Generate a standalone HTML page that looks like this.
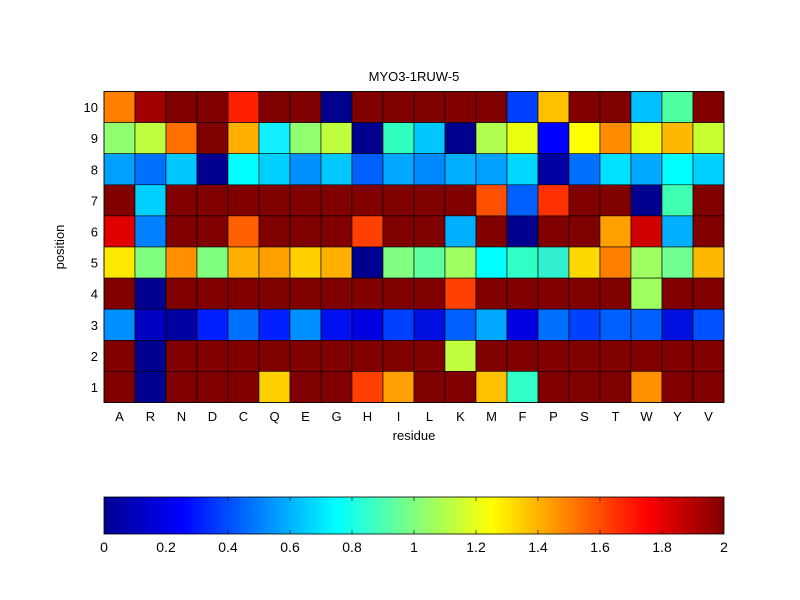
<!DOCTYPE html>
<html><head><meta charset="utf-8"><style>body{margin:0;background:#fff}svg{display:block}</style></head>
<body>
<svg xmlns="http://www.w3.org/2000/svg" width="800" height="600" viewBox="0 0 800 600" font-family="Liberation Sans, Arial, sans-serif" font-size="13">
<defs>
<linearGradient id="jet" x1="0" x2="1" y1="0" y2="0">
<stop offset="0" stop-color="#00008f"/><stop offset="0.125" stop-color="#0000ff"/><stop offset="0.375" stop-color="#00ffff"/><stop offset="0.625" stop-color="#ffff00"/><stop offset="0.875" stop-color="#ff0000"/><stop offset="1" stop-color="#800000"/>
</linearGradient>
</defs>
<rect width="800" height="600" fill="#fff"/>
<g id="cells" stroke="#000" stroke-width="0.6"></g>
<rect x="104" y="91.5" width="620" height="311" fill="none" stroke="#000" stroke-width="0.8"/>
<text x="414" y="81" text-anchor="middle">MYO3-1RUW-5</text>
<g id="ylab" text-anchor="end"></g>
<g id="xlab" text-anchor="middle"></g>
<text x="414" y="440" text-anchor="middle">residue</text>
<text transform="translate(64,247) rotate(-90)" text-anchor="middle">position</text>
<rect x="104" y="497" width="620" height="37" fill="url(#jet)" stroke="#000" stroke-width="0.8"/>
<g id="cb" text-anchor="middle" font-size="14"></g>
<script>
var D='#800000',B='#00008f';
var rows={
10:['#ff8000','#a00000',D,D,'#ff2000',D,D,B,D,D,D,D,D,'#0040ff','#ffc000',D,D,'#00c0ff','#50ffa0',D],
9:['#90ff70','#c0ff40','#ff7000',D,'#ffb000','#10f0ff','#90ff70','#c0ff40',B,'#30ffc0','#00c8ff',B,'#b0ff50','#e8ff10','#0000ff','#ffff00','#ff8c00','#e8ff10','#ffb800','#c8ff30'],
8:['#00a0ff','#0070ff','#00c8ff',B,'#00ffff','#00d0ff','#0090ff','#00c8ff','#0060ff','#00a8ff','#0088ff','#00b0ff','#00a0ff','#00d8ff','#0000a0','#0070ff','#00e0ff','#00a8ff','#00ffff','#00d0ff'],
7:[D,'#00d0ff',D,D,D,D,D,D,D,D,D,D,'#ff5000','#0060ff','#ff3000',D,D,B,'#40ffb0',D],
6:['#e00000','#0080ff',D,D,'#ff6000',D,D,D,'#ff4000',D,D,'#00b0ff',D,B,D,D,'#ffa000','#d00000','#00b0ff',D],
5:['#ffe800','#80ff80','#ff9000','#80ff80','#ffb000','#ffa000','#ffd000','#ffb000',B,'#80ff80','#60ffa0','#a0ff60','#00ffff','#30ffc8','#30f0d0','#ffd800','#ff8000','#a0ff60','#70ff90','#ffb800'],
4:[D,B,D,D,D,D,D,D,D,D,D,'#ff4000',D,D,D,D,D,'#a0ff60',D,D],
3:['#0090ff','#0000c0','#0000a0','#0020ff','#0070ff','#0020ff','#0090ff','#0010ee','#0000e0','#0040ff','#0010e0','#0060ff','#00a8ff','#0000e0','#0070ff','#0040ff','#0060ff','#0060ff','#0010e0','#0050ff'],
2:[D,B,D,D,D,D,D,D,D,D,D,'#c0ff40',D,D,D,D,D,D,D,D],
1:[D,B,D,D,D,'#ffd000',D,D,'#ff4000','#ffa000',D,D,'#ffc000','#30ffc8',D,D,D,'#ff9000',D,D]};
var ns='http://www.w3.org/2000/svg',cw=31,ch=31.1,x0=104,y0=91.5;
var g=document.getElementById('cells'),yl=document.getElementById('ylab'),xl=document.getElementById('xlab'),cb=document.getElementById('cb');
function el(t,a,p,txt){var e=document.createElementNS(ns,t);for(var k in a)e.setAttribute(k,a[k]);if(txt!=null)e.textContent=txt;p.appendChild(e);return e;}
for(var r=10;r>=1;r--){var y=y0+(10-r)*ch;for(var c=0;c<20;c++)el('rect',{x:x0+c*cw,y:y,width:cw,height:ch,fill:rows[r][c]},g);
el('text',{x:98,y:y+ch/2+5},yl,String(r));}
var res='ARNDCQEGHILKMFPSTWYV';
for(var c=0;c<20;c++)el('text',{x:x0+c*cw+cw/2,y:421},xl,res[c]);
var labs=['0','0.2','0.4','0.6','0.8','1','1.2','1.4','1.6','1.8','2'];
for(var i=0;i<11;i++){var x=104+i*62;el('text',{x:x,y:552},cb,labs[i]);
if(i>0&&i<10){el('line',{x1:x,x2:x,y1:497,y2:501,stroke:'#000','stroke-width':0.6},cb);el('line',{x1:x,x2:x,y1:530,y2:534,stroke:'#000','stroke-width':0.6},cb);}}
</script>
</svg>
</body></html>
